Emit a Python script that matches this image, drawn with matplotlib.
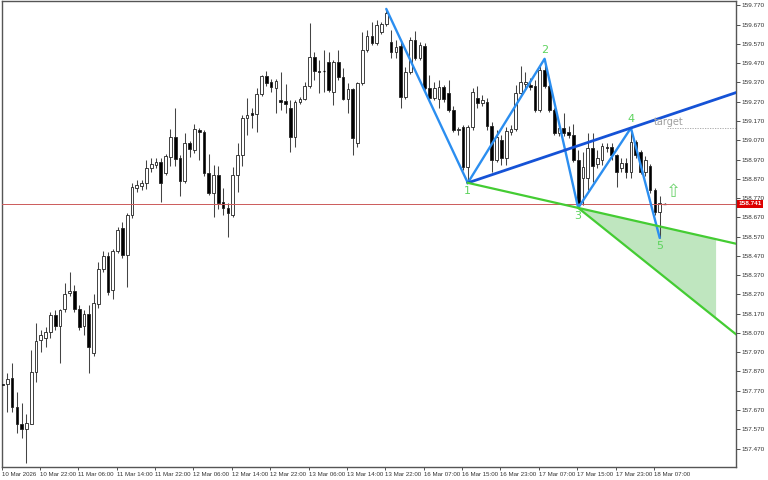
import matplotlib
matplotlib.use('Agg')
import matplotlib.pyplot as plt
from matplotlib.patches import Rectangle, Polygon
from matplotlib.transforms import blended_transform_factory

opens = [157.805, 157.805, 157.836, 157.686, 157.598, 157.572, 157.598, 157.868, 158.034, 158.044,
         158.075, 158.164, 158.106, 158.195, 158.278, 158.288, 158.195, 158.106, 158.169, 157.966,
         158.221, 158.402, 158.470, 158.293, 158.496, 158.615, 158.475, 158.683, 158.823, 158.833,
         158.849, 158.927, 158.942, 158.958, 158.901, 158.984, 159.088, 158.979, 158.859, 159.057,
         159.020, 159.124, 159.114, 158.901, 158.797, 158.890, 158.750, 158.719, 158.683, 158.890,
         158.994, 159.186, 159.212, 159.207, 159.311, 159.404, 159.373, 159.342, 159.280, 159.275,
         159.238, 159.088, 159.269, 159.285, 159.353, 159.503, 159.430, 159.430, 159.477, 159.321,
         159.477, 159.399, 159.285, 159.337, 159.057, 159.368, 159.539, 159.612, 159.576, 159.633,
         159.674, 159.581, 159.529, 159.560, 159.295, 159.425, 159.591, 159.498, 159.560, 159.342,
         159.290, 159.285, 159.347, 159.316, 159.228, 159.124, 159.140, 158.932, 159.140, 159.290,
         159.264, 159.269, 159.145, 158.968, 159.072, 158.979, 159.114, 159.129, 159.316, 159.363,
         159.358, 159.353, 159.228, 159.436, 159.353, 159.228, 159.109, 159.134, 159.114, 159.098,
         158.968, 158.875, 158.875, 159.031, 158.947, 158.968, 159.036, 159.036, 158.994, 158.927,
         158.953, 158.906, 159.062, 159.010, 158.906, 158.937, 158.812, 158.698, 158.741]

highs = [157.820, 157.862, 157.914, 157.764, 157.707, 157.650, 157.982, 158.122, 158.086, 158.101,
         158.179, 158.190, 158.195, 158.330, 158.387, 158.319, 158.215, 158.190, 158.215, 158.273,
         158.439, 158.496, 158.491, 158.506, 158.620, 158.646, 158.693, 158.849, 158.864, 158.864,
         158.968, 158.979, 158.979, 158.979, 158.999, 159.129, 159.238, 158.994, 159.109, 159.067,
         159.155, 159.134, 159.124, 158.999, 158.942, 158.937, 158.823, 158.745, 158.932, 159.057,
         159.202, 159.290, 159.238, 159.342, 159.410, 159.430, 159.389, 159.389, 159.425, 159.363,
         159.280, 159.280, 159.295, 159.373, 159.680, 159.529, 159.487, 159.539, 159.529, 159.487,
         159.539, 159.446, 159.368, 159.342, 159.373, 159.633, 159.643, 159.685, 159.695, 159.685,
         159.752, 159.643, 159.591, 159.591, 159.451, 159.607, 159.638, 159.581, 159.576, 159.410,
         159.373, 159.384, 159.358, 159.384, 159.249, 159.140, 159.150, 159.150, 159.342, 159.353,
         159.306, 159.290, 159.166, 159.124, 159.098, 159.140, 159.150, 159.358, 159.456, 159.425,
         159.394, 159.384, 159.461, 159.493, 159.363, 159.238, 159.145, 159.212, 159.145, 159.155,
         159.020, 159.010, 159.109, 159.109, 159.020, 159.057, 159.057, 159.057, 158.999, 158.979,
         158.979, 159.134, 159.072, 159.020, 158.989, 158.947, 158.823, 158.781, 158.743]

lows = [157.790, 157.660, 157.660, 157.551, 157.525, 157.395, 157.598, 157.816, 157.971, 157.998,
        158.044, 158.086, 157.914, 158.179, 158.262, 158.179, 158.086, 158.060, 157.862, 157.951,
        158.200, 158.387, 158.268, 158.247, 158.485, 158.460, 158.309, 158.667, 158.802, 158.812,
        158.818, 158.906, 158.927, 158.750, 158.890, 158.937, 158.937, 158.781, 158.849, 158.984,
        159.005, 158.968, 158.885, 158.787, 158.672, 158.714, 158.683, 158.569, 158.672, 158.802,
        158.937, 159.098, 159.134, 159.114, 159.301, 159.353, 159.321, 159.212, 159.228, 159.212,
        159.010, 159.036, 159.259, 159.280, 159.342, 159.384, 159.316, 159.321, 159.321, 159.254,
        159.384, 159.280, 159.212, 158.994, 159.036, 159.358, 159.529, 159.565, 159.565, 159.622,
        159.664, 159.498, 159.498, 159.238, 159.285, 159.415, 159.487, 159.487, 159.332, 159.280,
        159.280, 159.238, 159.269, 159.217, 159.114, 159.098, 158.916, 158.849, 159.124, 159.238,
        159.249, 159.124, 158.906, 158.958, 158.942, 158.942, 159.098, 159.119, 159.306, 159.342,
        159.332, 159.217, 159.217, 159.342, 159.217, 159.098, 159.093, 159.093, 159.083, 158.958,
        158.719, 158.735, 158.812, 158.854, 158.927, 158.942, 159.010, 158.968, 158.828, 158.906,
        158.875, 158.875, 158.979, 158.896, 158.885, 158.797, 158.683, 158.563, 158.740]

closes = [157.800, 157.831, 157.686, 157.598, 157.572, 157.603, 157.868, 158.029, 158.060, 158.075,
          158.164, 158.106, 158.190, 158.273, 158.288, 158.195, 158.101, 158.169, 157.998, 158.226,
          158.402, 158.470, 158.283, 158.496, 158.605, 158.475, 158.683, 158.828, 158.838, 158.849,
          158.927, 158.947, 158.958, 158.849, 158.989, 159.088, 158.973, 158.859, 159.057, 159.026,
          159.129, 159.114, 158.901, 158.797, 158.890, 158.745, 158.719, 158.693, 158.890, 158.994,
          159.186, 159.202, 159.202, 159.311, 159.404, 159.368, 159.347, 159.378, 159.269, 159.259,
          159.088, 159.269, 159.285, 159.353, 159.503, 159.430, 159.425, 159.428, 159.332, 159.477,
          159.399, 159.285, 159.337, 159.083, 159.368, 159.539, 159.612, 159.576, 159.669, 159.674,
          159.731, 159.529, 159.555, 159.295, 159.425, 159.591, 159.498, 159.565, 159.342, 159.290,
          159.342, 159.347, 159.285, 159.228, 159.124, 159.129, 158.932, 159.140, 159.321, 159.264,
          159.280, 159.145, 158.968, 159.088, 158.979, 159.119, 159.129, 159.316, 159.373, 159.373,
          159.347, 159.228, 159.436, 159.353, 159.228, 159.109, 159.134, 159.109, 159.098, 158.968,
          158.745, 158.932, 159.031, 158.937, 158.979, 159.041, 159.031, 158.994, 158.906, 158.953,
          158.906, 159.062, 158.994, 158.906, 158.968, 158.812, 158.698, 158.745, 158.741]

time_label_bars = [0, 8, 16, 24, 32, 40, 48, 56, 64, 72, 80, 88, 96, 104, 112, 120, 128, 136]
time_labels = ["10 Mar 2026", "10 Mar 22:00", "11 Mar 06:00", "11 Mar 14:00", "11 Mar 22:00",
               "12 Mar 06:00", "12 Mar 14:00", "12 Mar 22:00", "13 Mar 06:00", "13 Mar 14:00",
               "13 Mar 22:00", "16 Mar 07:00", "16 Mar 15:00", "16 Mar 23:00", "17 Mar 07:00",
               "17 Mar 15:00", "17 Mar 23:00", "18 Mar 07:00"]

price_ticks = [157.470, 157.570, 157.670, 157.770, 157.870, 157.970, 158.070, 158.170, 158.270,
               158.370, 158.470, 158.570, 158.670, 158.770, 158.870, 158.970, 159.070, 159.170,
               159.270, 159.370, 159.470, 159.570, 159.670, 159.770]

zz_bars = [80, 97, 113, 120, 131, 137]
zz_kind = ['H', 'L', 'H', 'L', 'H', 'L']
zz_names = ['', '1', '2', '3', '4', '5']
current_price = 158.741

# ---------------- figure ----------------
plt.rcParams['font.family'] = ['Liberation Sans Narrow', 'Liberation Sans', 'DejaVu Sans']
W, H = 768, 480
fig = plt.figure(figsize=(W / 100, H / 100), dpi=100)
ax = fig.add_axes([1.5 / W, 13 / H, 734.5 / W, 466 / H])
n = len(opens)
x_left, x_right = -0.1, 152.9
ax.set_xlim(x_left, x_right)
ax.set_ylim(157.374, 159.793)

# candles
bw = 0.56
for i in range(n):
    o, h, l, c = opens[i], highs[i], lows[i], closes[i]
    ax.vlines(i, l, h, color='#444444', lw=0.75, zorder=2)
    bull = c >= o
    bot = min(o, c)
    ht = abs(c - o)
    if ht < 0.003:
        ax.hlines(o, i - bw / 2, i + bw / 2, color='#000000', lw=0.9, zorder=3)
    else:
        ax.add_patch(Rectangle((i - bw / 2, bot), bw, ht,
                               facecolor='white' if bull else 'black',
                               edgecolor='#222222', lw=0.6, zorder=3))

# zigzag points
zz_p = [highs[b] if k == 'H' else lows[b] for b, k in zip(zz_bars, zz_kind)]
ax.plot(zz_bars, zz_p, color='#2b8ef0', lw=1.7, zorder=5, solid_capstyle='round')

b1, p1 = zz_bars[1], zz_p[1]
b2, p2 = zz_bars[2], zz_p[2]
b3, p3 = zz_bars[3], zz_p[3]
b4, p4 = zz_bars[4], zz_p[4]

# blue 1-4 line extended
s14 = (p4 - p1) / (b4 - b1)
ax.plot([b1, x_right], [p1, p1 + s14 * (x_right - b1)], color='#1552d6', lw=2.0, zorder=6)

# green 1-3 line extended
s13 = (p3 - p1) / (b3 - b1)
ax.plot([b1, x_right], [p1, p1 + s13 * (x_right - b1)], color='#44cc33', lw=1.6, zorder=6)
# green line from 3 parallel to 2-4
s24 = (p4 - p2) / (b4 - b2)
ax.plot([b3, x_right], [p3, p3 + s24 * (x_right - b3)], color='#44cc33', lw=1.6, zorder=6)

fill_end = 148.75
poly = Polygon([(b3, p3), (fill_end, p3 + s13 * (fill_end - b3)),
                (fill_end, p3 + s24 * (fill_end - b3))], closed=True,
               facecolor='#bfe6bf', edgecolor='none', zorder=1)
ax.add_patch(poly)

# labels 1..5
for b, p, k, name in zip(zz_bars, zz_p, zz_kind, zz_names):
    if not name:
        continue
    if k == 'H':
        ax.annotate(name, (b, p), xytext=(0, 2.5), textcoords='offset points',
                    ha='center', va='bottom', color='#5dd35d', fontsize=8,
                    family='DejaVu Sans', zorder=7)
    else:
        ax.annotate(name, (b, p), xytext=(0, -2), textcoords='offset points',
                    ha='center', va='top', color='#5dd35d', fontsize=8,
                    family='DejaVu Sans', zorder=7)

# target
ax.plot([138.5, x_right], [p4, p4], color='#a0a0a0', lw=0.6, ls=(0, (1.5, 1.5)), zorder=4)
ax.text(135.8, p4 + 0.030, 'target', color='#a0a0a0', fontsize=7, family='DejaVu Sans',
        ha='left', va='center', zorder=7)

# up arrow
ax.text(139.8, 158.800, '\u21e7', color='#6fd36f', fontsize=13, family='DejaVu Sans',
        ha='center', va='center', zorder=7)

# current price line
ax.axhline(current_price, color='#cc5a5a', lw=0.7, zorder=4)

# axes styling
for sp in ax.spines.values():
    sp.set_color('#555555')
    sp.set_linewidth(1.0)

ax.yaxis.tick_right()
ax.set_yticks(price_ticks)
ax.set_yticklabels([f'{v:.3f}' for v in price_ticks])
ax.tick_params(axis='y', direction='out', length=3, width=0.6, pad=1, labelsize=4.6,
               colors='#333333')

ax.set_xticks([b - 0.2 for b in time_label_bars])
ax.set_xticklabels(time_labels)
ax.tick_params(axis='x', direction='out', length=2.5, width=0.6, pad=1, labelsize=4.4,
               colors='#333333')
for lab in ax.get_xticklabels():
    lab.set_ha('left')

# price label box
tr = blended_transform_factory(ax.transAxes, ax.transData)
ax.text(1.003, current_price, f'{current_price:.3f}', transform=tr, ha='left', va='center',
        fontsize=4.6, color='white', fontweight='bold',
        bbox=dict(boxstyle='square,pad=0.25', facecolor='#dd0000', edgecolor='none'),
        zorder=10, clip_on=False)

fig.savefig('out.png', dpi=100, facecolor='white')
